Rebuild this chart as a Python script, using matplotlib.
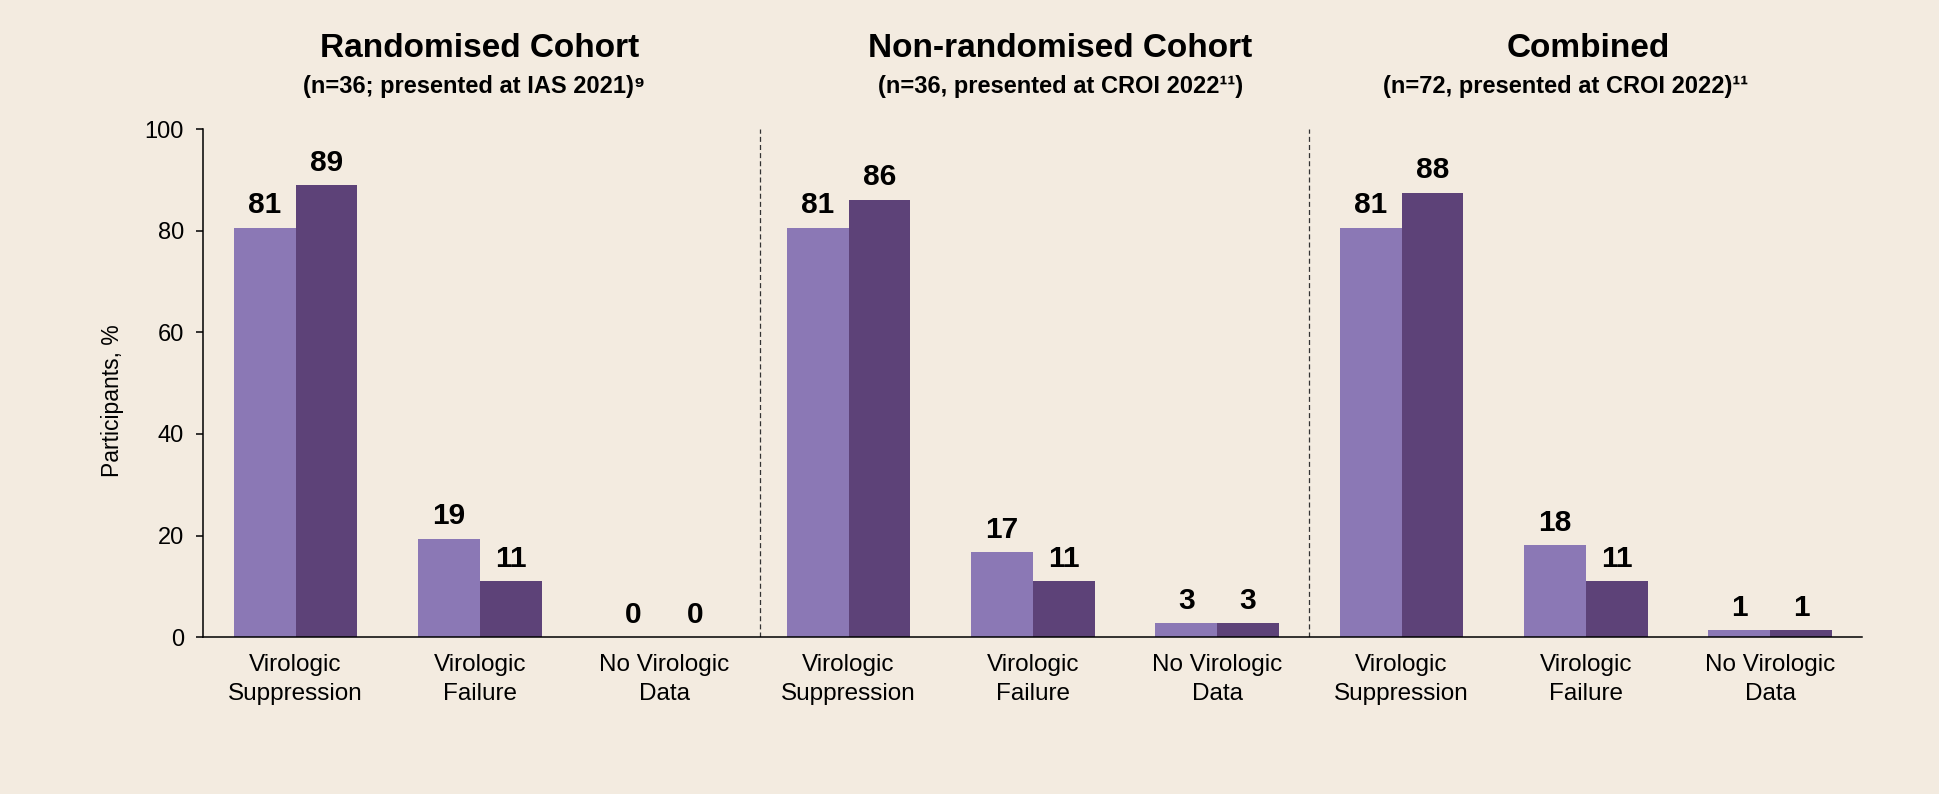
import matplotlib.pyplot as plt
import matplotlib.transforms as mtransforms
import numpy as np

plt.rcParams['font.family'] = ['Liberation Sans', 'DejaVu Sans']

# categories, 3 per cohort
categories = ['Virologic\nSuppression', 'Virologic\nFailure', 'No Virologic\nData'] * 3
# two series per category (light / dark purple)
light_vals = [80.6, 19.4, 0.0, 80.6, 16.7, 2.8, 80.6, 18.1, 1.4]
dark_vals = [88.9, 11.1, 0.0, 86.1, 11.1, 2.8, 87.5, 11.1, 1.4]

titles = ['Randomised Cohort', 'Non-randomised Cohort', 'Combined']
subtitles = ['(n=36; presented at IAS 2021)\u2079',
             '(n=36, presented at CROI 2022\u00b9\u00b9)',
             '(n=72, presented at CROI 2022)\u00b9\u00b9']
title_x = [1.0, 4.15, 7.01]
subtitle_x = [0.97, 4.15, 6.89]

bg = '#F3EBE0'
c_light = '#8B78B5'
c_dark = '#5D4278'

fig = plt.figure(figsize=(19.39, 7.94), dpi=100, facecolor=bg)
ax = fig.add_axes([0.1049, 0.1974, 0.8556, 0.6401])
ax.set_facecolor(bg)

x = np.arange(len(categories))
w = 0.335
b1 = ax.bar(x, light_vals, width=-w, align='edge', color=c_light)
b2 = ax.bar(x, dark_vals, width=w, align='edge', color=c_dark)

for bars, vals in ((b1, light_vals), (b2, dark_vals)):
    for r, v in zip(bars, vals):
        ax.annotate('%.0f' % v, (r.get_x() + r.get_width() / 2, v),
                    xytext=(0, 6), textcoords='offset points',
                    ha='center', va='bottom', fontsize=21.5, fontweight='bold')

# dashed separators between cohorts
for xs in (2.52, 5.5):
    ax.plot([xs, xs], [0, 100], color='#333333', lw=0.9,
            linestyle=(0, (4, 2.5)))

ax.set_xlim(-0.5, 8.5)
ax.set_ylim(0, 100)
ax.set_yticks([0, 20, 40, 60, 80, 100])
ax.set_xticks(x)
ax.set_xticklabels(categories, fontsize=17.5, linespacing=1.42)
ax.tick_params(axis='x', length=0, pad=12)
ax.tick_params(axis='y', labelsize=17, length=5, width=1.1, pad=9, direction='out')
ax.set_ylabel('Participants, %', fontsize=16.5)
ax.yaxis.set_label_coords(-0.048, 0.465)

for s in ('top', 'right'):
    ax.spines[s].set_visible(False)
for s in ('left', 'bottom'):
    ax.spines[s].set_linewidth(1.1)
    ax.spines[s].set_color('black')

trans = mtransforms.blended_transform_factory(ax.transData, fig.transFigure)
for t, tx in zip(titles, title_x):
    ax.text(tx, 0.928, t, transform=trans, ha='center', va='baseline',
            fontsize=24, fontweight='bold', clip_on=False)
for st, sx in zip(subtitles, subtitle_x):
    ax.text(sx, 0.883, st, transform=trans, ha='center', va='baseline',
            fontsize=17, fontweight='bold', clip_on=False)

fig.savefig('out.png', dpi=100, facecolor=bg)
